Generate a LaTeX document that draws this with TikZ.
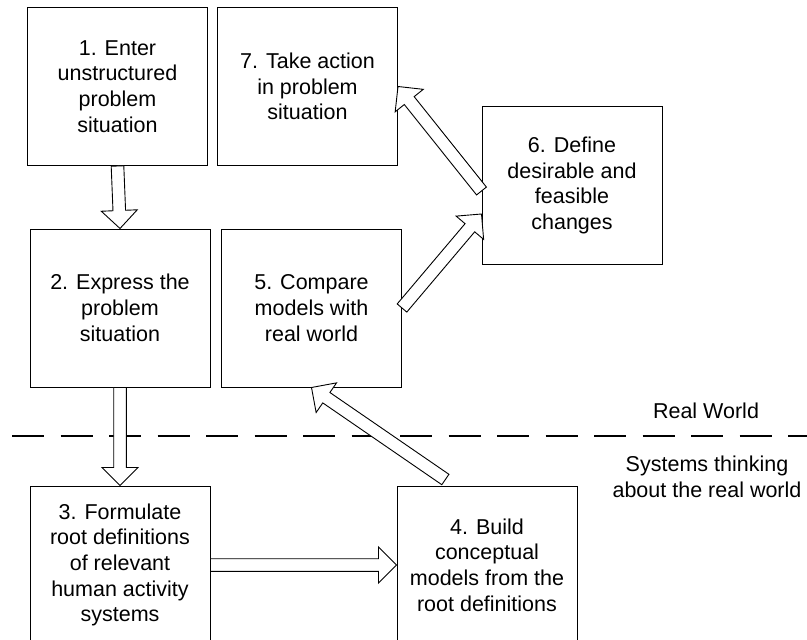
\documentclass[tikz,border=0pt]{standalone}
\usepackage{fontspec}
\setmainfont{Liberation Sans}
\usetikzlibrary{calc}
\tikzset{
  stage/.style={draw,line width=1pt,minimum width=180pt,minimum height=158pt,
    align=center,inner sep=0pt,font=\fontsize{21.5}{25.7}\selectfont},
  note/.style={align=center,inner sep=0pt,font=\fontsize{21.5}{25.7}\selectfont},
  arrowbody/.style={draw,line width=0.9pt,fill=white,line join=miter}
}
% hollow block arrow from #1 to #2
\newcommand\blockarrow[2]{%
  \path (#1) coordinate (ba-t) (#2) coordinate (ba-h);
  \path ($(ba-h)!18pt!(ba-t)$) coordinate (ba-b);
  \draw[arrowbody] ($(ba-t)!6.3pt!90:(ba-h)$) -- ($(ba-b)!6.3pt!90:(ba-h)$)
    -- ($(ba-b)!18pt!90:(ba-h)$) -- (ba-h) -- ($(ba-b)!18pt!-90:(ba-h)$)
    -- ($(ba-b)!6.3pt!-90:(ba-h)$) -- ($(ba-t)!6.3pt!-90:(ba-h)$) -- cycle;
}
\begin{document}
\begin{tikzpicture}[x=1pt,y=-1pt]
  \path[use as bounding box,clip] (0,0) rectangle (807,640);

  \node[stage] (b1) at (117.5,86.5) {1. Enter\\unstructured\\problem\\situation};
  \node[stage] (b7) at (307.5,86.5) {7. Take action\\in problem\\situation};
  \node[stage] (b6) at (572,185.5) {6. Define\\desirable and\\feasible\\changes};
  \node[stage] (b2) at (120,308) {2. Express the\\problem\\situation};
  \node[stage] (b5) at (311.5,308) {5. Compare\\models with\\real world};
  \node[stage] (b3) at (120,565) {3. Formulate\\root definitions\\of relevant\\human activity\\systems};
  \node[stage] (b4) at (487,565) {4. Build\\conceptual\\models from the\\root definitions};

  % boundary between the two worlds
  \coordinate (rw west) at (12,436);
  \coordinate (rw east) at (830,436);
  \draw[line width=2pt,dash pattern=on 32pt off 16.5pt] (rw west) -- (rw east);
  \node[note] (real) at (706,411) {Real World};
  \node[note] (sys) at (707,477) {Systems thinking\\about the real world};

  \blockarrow{b1.south}{b2.north}
  \blockarrow{b2.south}{b3.north}
  \blockarrow{b3.east}{b4.west}
  \blockarrow{$(b4.north west)!0.27!(b4.north east)+(0,-6)$}{b5.south}
  \blockarrow{b5.east}{[yshift=-28.5pt]b6.west}
  \blockarrow{[yshift=-5.5pt]b6.west}{b7.east}
\end{tikzpicture}
\end{document}
